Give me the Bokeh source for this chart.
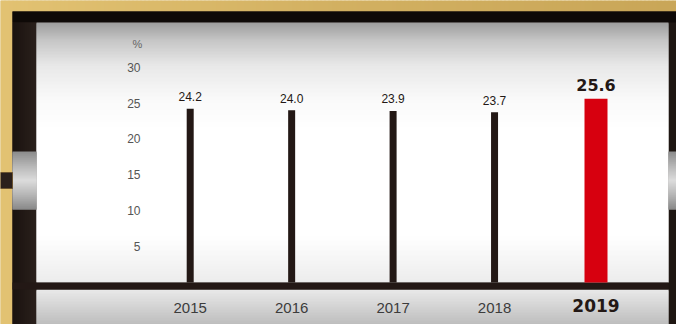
import numpy as np
from bokeh.plotting import figure
from bokeh.models import Range1d, LinearAxis, FixedTicker, Label
from bokeh.core.properties import value
from bokeh.embed import file_html
from bokeh.resources import INLINE

# ---- data ----
years = [2015, 2016, 2017, 2018]
values = [24.2, 24.0, 23.9, 23.7]
highlight_year = [2019]
highlight_value = [25.6]
y_ticks = [5, 10, 15, 20, 25, 30]
unit_label = "%"

# ---- layout constants (pixels) ----
W, H = 676, 324
X0_PX, X_STEP_PX = 189.7, 101.45   # pixel x of first year, pixels per year
Y0_PX, Y_STEP_PX = 282.0, 7.18     # pixel y of zero, pixels per percent

p = figure(width=W, height=H, output_backend="svg", toolbar_location=None,
           x_range=Range1d(years[0] - X0_PX / X_STEP_PX, years[0] + (W - X0_PX) / X_STEP_PX),
           y_range=Range1d(-(H - Y0_PX) / Y_STEP_PX, Y0_PX / Y_STEP_PX),
           min_border=0, x_axis_type=None, y_axis_type=None)
p.outline_line_color = None
p.background_fill_color = "#D8B766"
p.border_fill_color = "#D8B766"
p.extra_x_ranges = {"px": Range1d(0, W)}
p.extra_y_ranges = {"px": Range1d(H, 0)}


def hexc(c):
    c = c.lstrip("#")
    return np.array([int(c[i:i + 2], 16) for i in (0, 2, 4)], dtype=float)


def grad_colors(pos, stops):
    sp = [s[0] for s in stops]
    cs = np.array([hexc(s[1]) for s in stops])
    out = []
    for t in pos:
        rgb = [np.interp(t, sp, cs[:, k]) for k in range(3)]
        out.append("#%02x%02x%02x" % tuple(int(round(v)) for v in rgb))
    return out


def vgrad(x0, x1, y0, y1, stops, step=1):
    e = np.arange(y0, y1, step)
    ends = np.minimum(e + step + 1, y1)
    p.quad(left=x0, right=x1, top=e, bottom=ends,
           fill_color=grad_colors(e + step / 2, stops), line_color=None,
           x_range_name="px", y_range_name="px")


def hgrad(x0, x1, y0, y1, stops, step=2):
    e = np.arange(x0, x1, step)
    ends = np.minimum(e + step + 1, x1)
    p.quad(left=e, right=ends, top=y0, bottom=y1,
           fill_color=grad_colors(e + step / 2, stops), line_color=None,
           x_range_name="px", y_range_name="px")


def box(x0, x1, y0, y1, color, line=None):
    p.quad(left=[x0], right=[x1], top=[y0], bottom=[y1], fill_color=color,
           line_color=line, x_range_name="px", y_range_name="px")


# gold background
hgrad(0, W, 0, H, [(0, "#E2C272"), (340, "#D2B061"), (676, "#C9A658")], step=4)
# dark frame
box(12, W, 11, H, "#1E1612")
box(12, W, 11, 22, "#0E0907")
hgrad(12, 36, 22, H, [(12, "#1A120F"), (36, "#2A201C")], step=2)
# inner panel with top gradient
vgrad(36, 668, 22, 282, [(22, "#9C9C9C"), (40, "#C6C6C6"), (65, "#E8E8E8"),
                         (100, "#FAFAFA"), (130, "#FFFFFF"), (235, "#FFFFFF"),
                         (282, "#ECECEC")], step=1)
# bottom strip
vgrad(36, 668, 289, H, [(289, "#E9E9E9"), (324, "#BDBDBD")], step=1)
# baseline bar
box(12, 668, 282, 289, "#231815")
# silver tabs
tab_stops = [(151, "#8A8A8A"), (166, "#B8B8B8"), (180, "#DCDCDC"), (195, "#B4B4B4"), (209, "#888888")]
vgrad(12, 36, 151, 209, tab_stops, step=1)
vgrad(668, W, 151, 209, tab_stops, step=1)
box(0, 12, 172, 188, "#2A1F1B", line="#6B5330")

# ---- bars ----
p.vbar(x=years, top=values, bottom=0, width=7 / X_STEP_PX,
       fill_color="#231815", line_color=None)
p.vbar(x=highlight_year, top=highlight_value, bottom=0, width=23 / X_STEP_PX,
       fill_color="#D7000F", line_color=None)

# ---- value labels ----
p.text(x=years, y=values, text=["%.1f" % v for v in values],
       text_font=value("Liberation Sans"), text_font_size="12px",
       text_color="#231815", text_align="center", text_baseline="middle",
       y_offset=-12)
p.text(x=highlight_year, y=highlight_value, text=["%.1f" % v for v in highlight_value],
       text_font=value("DejaVu Sans"), text_font_size="16px", text_font_style="bold",
       text_color="#231815", text_align="center", text_baseline="middle",
       y_offset=-14)

# ---- axes ----
yaxis = LinearAxis(ticker=FixedTicker(ticks=y_ticks),
                   fixed_location=years[0] - (X0_PX - 140) / X_STEP_PX,
                   axis_line_color=None, major_tick_line_color=None,
                   minor_tick_line_color=None, major_label_standoff=0,
                   major_tick_in=0, major_tick_out=0,
                   major_label_text_font="Liberation Sans",
                   major_label_text_font_size="12px",
                   major_label_text_color="#555555")
p.add_layout(yaxis, "left")

base_y = -(289 - Y0_PX) / Y_STEP_PX
xaxis = LinearAxis(ticker=FixedTicker(ticks=years), fixed_location=base_y,
                   axis_line_color=None, major_tick_line_color=None,
                   minor_tick_line_color=None, major_label_standoff=13,
                   major_tick_in=0, major_tick_out=0,
                   major_label_text_font="Liberation Sans",
                   major_label_text_font_size="15px",
                   major_label_text_color="#3C3C3C")
p.add_layout(xaxis, "below")
xaxis2 = LinearAxis(ticker=FixedTicker(ticks=highlight_year), fixed_location=base_y,
                    axis_line_color=None, major_tick_line_color=None,
                    minor_tick_line_color=None, major_label_standoff=9,
                    major_tick_in=0, major_tick_out=0,
                    major_label_text_font="DejaVu Sans",
                    major_label_text_font_style="bold",
                    major_label_text_font_size="17px",
                    major_label_text_color="#231815")
p.add_layout(xaxis2, "below")

p.add_layout(Label(x=137, y=43, x_range_name="px", y_range_name="px", text=unit_label,
                   text_font="Liberation Sans", text_font_size="11px",
                   text_color="#666666", text_align="center", text_baseline="middle"))

open("out.html", "w").write(file_html(p, INLINE))
